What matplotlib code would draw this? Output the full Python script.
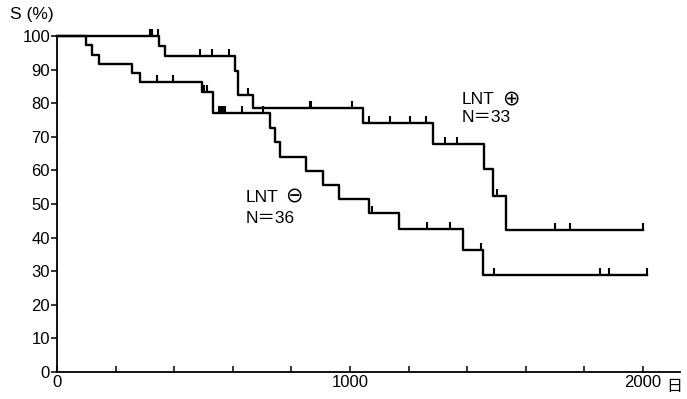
import numpy as np
import matplotlib
matplotlib.use("Agg")
import matplotlib.pyplot as plt
from matplotlib.ticker import MultipleLocator

plt.rcParams['font.family'] = ['Liberation Sans', 'DejaVu Sans', 'Noto Sans CJK JP']

# LNT (+), N=33 : step times (days) and survival (%)
pos_t = [0, 348, 368, 608, 618, 668, 1043, 1282, 1457, 1488, 1532, 2000]
pos_s = [100, 97.0, 93.9, 89.5, 82.4, 78.6, 74.0, 67.9, 60.4, 52.4, 42.3, 42.3]
pos_cens = [317, 324, 345, 488, 529, 587, 652, 863, 867, 1007, 1065, 1137, 1205, 1259, 1324, 1365, 1502, 1700, 1751, 2000]

# LNT (-), N=36
neg_t = [0, 98, 118, 144, 255, 283, 494, 533, 727, 745, 761, 850, 908, 962, 1065, 1167, 1385, 1455, 2012]
neg_s = [100, 97.2, 94.4, 91.6, 88.9, 86.2, 83.4, 77.0, 72.5, 68.5, 64.1, 59.9, 55.6, 51.4, 47.2, 42.5, 36.3, 28.9, 28.9]
neg_cens = [341, 396, 502, 512, 553, 560, 567, 573, 631, 703, 1075, 1263, 1341, 1446, 1491, 1853, 1884, 2012]

y_ticks = list(range(0, 101, 10))
x_labels = ['0', '1000', '2000']


def surv_at(t_list, s_list, t):
    i = np.searchsorted(t_list, t, side='right') - 1
    return s_list[i]


fig = plt.figure(figsize=(6.87, 3.99), dpi=100)
ax = fig.add_axes([57/687, 1 - 372/399, (680 - 57)/687, (372 - 36)/399])

for t, s, cens in [(pos_t, pos_s, pos_cens), (neg_t, neg_s, neg_cens)]:
    ax.step(t, s, where='post', color='black', lw=1.7, clip_on=False)
    cy = [surv_at(t, s, c) for c in cens]
    ax.plot(cens, cy, linestyle='none', marker=2, ms=5, mew=1.5, color='black', clip_on=False)

ax.set_xlim(0, 2126)
ax.set_ylim(0, 100)
ax.spines['top'].set_visible(False)
ax.spines['right'].set_visible(False)
ax.spines['left'].set_linewidth(1.3)
ax.spines['bottom'].set_linewidth(1.3)

ax.set_yticks(y_ticks)
ax.tick_params(axis='y', direction='out', length=4, width=1.1, labelsize=12, pad=1)
ax.set_xticks([0, 1000, 2000])
ax.set_xticklabels(x_labels)
ax.xaxis.set_minor_locator(MultipleLocator(200))
ax.tick_params(axis='x', which='both', direction='in', length=4, width=1.1, labelsize=12, pad=2)

ax.text(2080, -0.042, '日', transform=ax.get_xaxis_transform(), ha='left', va='center',
        fontsize=11.5, family=['Noto Sans CJK JP'])
fig.text(10/687, 1 - 14/399, 'S (%)', ha='left', va='center', fontsize=12.5)

ax.text(1382, 81, 'LNT', fontsize=12.5, ha='left', va='center')
ax.text(1518, 81.3, '⊕', fontsize=15, ha='left', va='center', family=['DejaVu Sans'])
ax.text(1382, 75.8, 'N＝33', fontsize=12.5, ha='left', va='center')
ax.text(642, 52, 'LNT', fontsize=12.5, ha='left', va='center')
ax.text(780, 52.3, '⊖', fontsize=15, ha='left', va='center', family=['DejaVu Sans'])
ax.text(642, 45.8, 'N＝36', fontsize=12.5, ha='left', va='center')

fig.savefig('out.png', dpi=100)
